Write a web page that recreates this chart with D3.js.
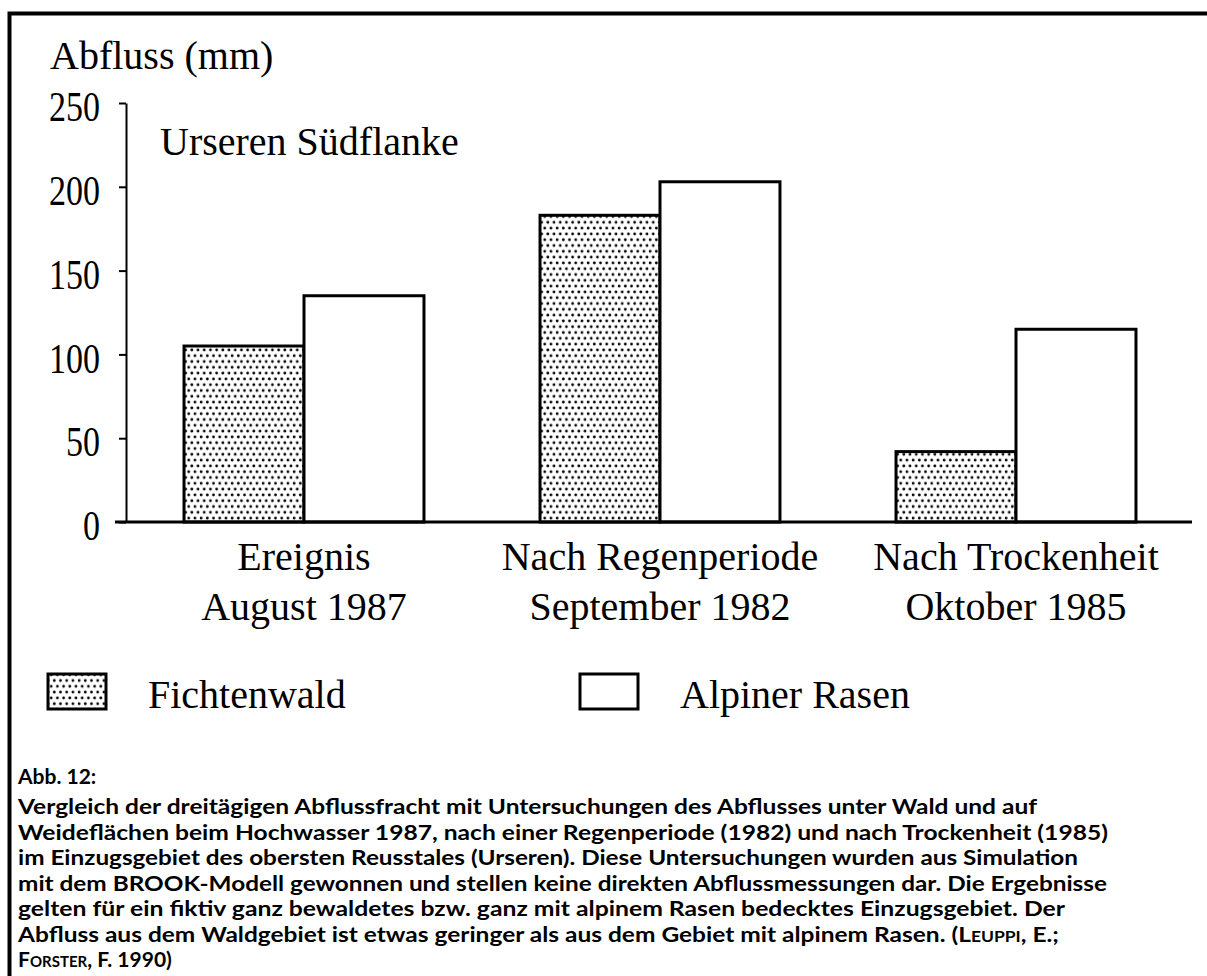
<!DOCTYPE html>
<html>
<head>
<meta charset="utf-8">
<script src="https://cdn.jsdelivr.net/npm/d3@7"></script>
<style>
  body { margin: 0; background: #fff; }
  svg { display: block; }
  .serif { font-family: "Liberation Serif", "Times New Roman", serif; fill: #000; }
  .cap { font-family: Lato, "Open Sans", sans-serif; font-weight: 700; font-size: 21px; fill: #000; }
</style>
</head>
<body>
<div id="chart"></div>
<script>
// chart data
var catLine1 = ["Ereignis", "Nach Regenperiode", "Nach Trockenheit"];
var catLine2 = ["August 1987", "September 1982", "Oktober 1985"];
var seriesNames = ["Fichtenwald", "Alpiner Rasen"];
var fichtenwald = [105, 183, 42];
var alpinerRasen = [135, 203, 115];
var yTicks = [0, 50, 100, 150, 200, 250];

var captionLines = [
  "Vergleich der dreitägigen Abflussfracht mit Untersuchungen des Abflusses unter Wald und auf",
  "Weideflächen beim Hochwasser 1987, nach einer Regenperiode (1982) und nach Trockenheit (1985)",
  "im Einzugsgebiet des obersten Reusstales (Urseren). Diese Untersuchungen wurden aus Simulation",
  "mit dem BROOK-Modell gewonnen und stellen keine direkten Abflussmessungen dar. Die Ergebnisse",
  "gelten für ein fiktiv ganz bewaldetes bzw. ganz mit alpinem Rasen bedecktes Einzugsgebiet. Der"
];
var captionEnds = [1037, 1108, 1078, 1107, 1065, 1059, 190];

var W = 1207, H = 976;
var svg = d3.select("#chart").append("svg").attr("width", W).attr("height", H);

// dotted fill
var pat = svg.append("defs").append("pattern")
  .attr("id", "dots").attr("patternUnits", "userSpaceOnUse")
  .attr("width", 6.2).attr("height", 11.6);
pat.append("rect").attr("width", 6.2).attr("height", 11.6).attr("fill", "#fff");
pat.append("circle").attr("cx", 1.6).attr("cy", 2).attr("r", 1.4).attr("fill", "#000");
pat.append("circle").attr("cx", 4.7).attr("cy", 7.8).attr("r", 1.4).attr("fill", "#000");

// frame (top and left only)
svg.append("path").attr("d", "M1207,13.5H9.5V976")
  .attr("fill", "none").attr("stroke", "#000").attr("stroke-width", 4);

var x0 = d3.scaleBand().domain(catLine1).range([126, 1194]).paddingInner(0.326).paddingOuter(0.163);
var x1 = d3.scaleBand().domain(seriesNames).range([0, x0.bandwidth()]);
var y = d3.scaleLinear().domain([0, 250]).range([522, 103]);

// y axis
var yAxis = svg.append("g").attr("transform", "translate(126,0)")
  .call(d3.axisLeft(y).tickValues(yTicks).tickSize(7).tickSizeOuter(0).tickPadding(19));
yAxis.select(".domain").attr("stroke-width", 2);
yAxis.selectAll(".tick line").attr("stroke-width", 2);
yAxis.selectAll("text").attr("class", "serif").attr("font-size", 42).attr("dy", "0.42em")
  .attr("font-family", "Liberation Serif")
  .attr("textLength", function(d) { return String(d).length * 17; })
  .attr("lengthAdjust", "spacingAndGlyphs");

// bars
var rows = catLine1.map(function(c, i) { return { cat: c, vals: [fichtenwald[i], alpinerRasen[i]] }; });
var grp = svg.selectAll(".grp").data(rows).enter().append("g")
  .attr("transform", function(d) { return "translate(" + x0(d.cat) + ",0)"; });
grp.selectAll("rect").data(function(d) {
    return d.vals.map(function(v, j) { return { key: seriesNames[j], v: v }; });
  }).enter().append("rect")
  .attr("x", function(d) { return x1(d.key); })
  .attr("y", function(d) { return y(d.v); })
  .attr("width", x1.bandwidth())
  .attr("height", function(d) { return y(0) - y(d.v); })
  .attr("fill", function(d) { return d.key === "Fichtenwald" ? "url(#dots)" : "#fff"; })
  .attr("stroke", "#000").attr("stroke-width", 3);

// baseline
svg.append("line").attr("x1", 115).attr("x2", 1192).attr("y1", y(0)).attr("y2", y(0))
  .attr("stroke", "#000").attr("stroke-width", 3);

// category labels
var cl = svg.selectAll(".cat").data(catLine1).enter().append("text")
  .attr("class", "serif").attr("font-size", 40).attr("text-anchor", "middle")
  .attr("x", function(d) { return x0(d) + x0.bandwidth() / 2; });
cl.append("tspan").attr("y", 570).text(function(d) { return d; });
cl.append("tspan").attr("y", 620).attr("x", function(d) { return x0(d) + x0.bandwidth() / 2; })
  .text(function(d, i) { return catLine2[i]; });

// titles
svg.append("text").attr("class", "serif").attr("font-size", 40).attr("x", 50).attr("y", 69).text("Abfluss (mm)");
svg.append("text").attr("class", "serif").attr("font-size", 40).attr("x", 160).attr("y", 155).text("Urseren Südflanke");

// legend
var legX = [48, 580];
seriesNames.forEach(function(n, i) {
  svg.append("rect").attr("x", legX[i]).attr("y", 674).attr("width", 58).attr("height", 35)
    .attr("fill", i === 0 ? "url(#dots)" : "#fff").attr("stroke", "#000").attr("stroke-width", 3);
  svg.append("text").attr("class", "serif").attr("font-size", 40)
    .attr("x", legX[i] + 100).attr("y", 708).text(n);
});

// caption
var capX = 18, capY0 = 814, capStep = 25.5;
svg.append("text").attr("class", "cap").attr("x", capX).attr("y", capY0 - 30).text("Abb. 12:");
captionLines.forEach(function(t, i) {
  svg.append("text").attr("class", "cap").attr("x", capX).attr("y", capY0 + i * capStep)
    .attr("textLength", captionEnds[i] - capX).attr("lengthAdjust", "spacingAndGlyphs").text(t);
});
var l6 = svg.append("text").attr("class", "cap").attr("x", capX).attr("y", capY0 + 5 * capStep)
  .attr("textLength", captionEnds[5] - capX).attr("lengthAdjust", "spacingAndGlyphs");
l6.append("tspan").text("Abfluss aus dem Waldgebiet ist etwas geringer als aus dem Gebiet mit alpinem Rasen. (L");
l6.append("tspan").attr("font-size", 15).text("EUPPI");
l6.append("tspan").text(", E.;");
var l7 = svg.append("text").attr("class", "cap").attr("x", capX).attr("y", capY0 + 6 * capStep);
l7.append("tspan").text("F");
l7.append("tspan").attr("font-size", 15).text("ORSTER");
l7.append("tspan").text(", F. 1990)");
</script>
</body>
</html>
